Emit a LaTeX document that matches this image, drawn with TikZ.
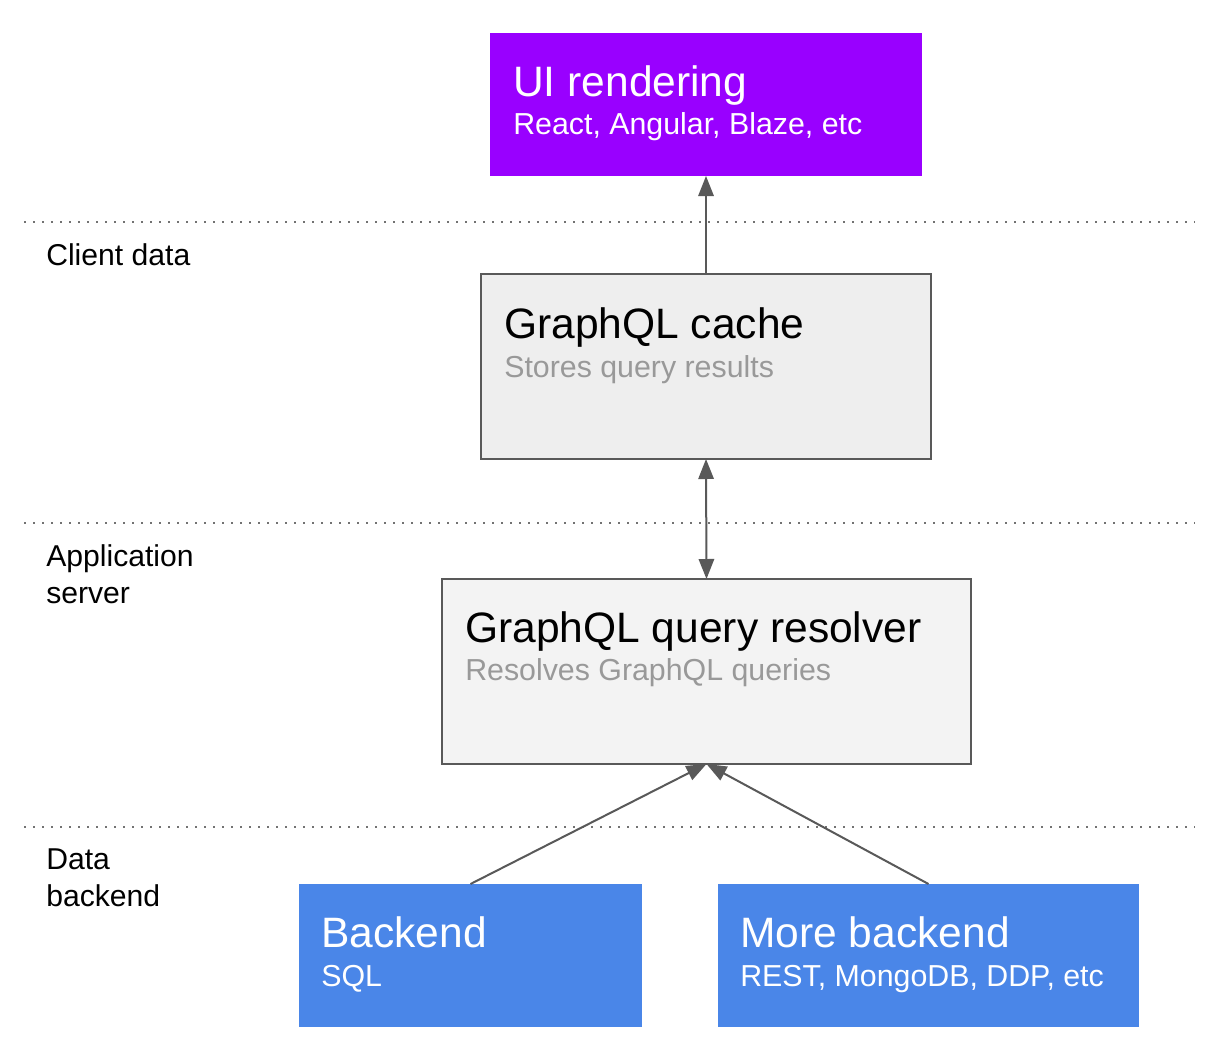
\documentclass[tikz,border=0pt]{standalone}
\usepackage{fontspec}
\setmainfont{Liberation Sans}
\usepackage{tikz}
\usetikzlibrary{arrows.meta}

\definecolor{uipurple}{HTML}{9900FF}
\definecolor{cachegray}{HTML}{EEEEEE}
\definecolor{resolvergray}{HTML}{F3F3F3}
\definecolor{backendblue}{HTML}{4A86E8}
\definecolor{edgegray}{HTML}{595959}
\definecolor{subgray}{HTML}{999999}

\tikzset{
	layerbox/.style={anchor=north west, inner sep=0pt, outer sep=0pt},
	greybox/.style={layerbox, draw=edgegray, line width=1.1pt},
	boxtitle/.style={anchor=base west, inner sep=0pt, font=\fontsize{31.9}{38}\selectfont},
	boxsub/.style={anchor=base west, inner sep=0pt, font=\fontsize{22.75}{27}\selectfont},
	layerlabel/.style={anchor=base west, inner sep=0pt, align=left, font=\fontsize{22.6}{27.3}\selectfont},
	flow/.style={draw=edgegray, line width=1.5pt, -{Triangle[length=15pt, width=11.5pt]}},
}

\begin{document}
\begin{tikzpicture}[x=0.75pt, y=-0.75pt]
	\useasboundingbox[fill=white] (0,0) rectangle (1218,1046);
	% layer separators
	\foreach \y in {222,523,827} {\draw[edgegray!85, line width=1.5pt, dash pattern=on 1.5pt off 5.25pt] (24,\y) -- (1195,\y);}
	\node[layerlabel] (clientlbl) at (46,265) {Client data};
	\node[layerlabel] (applbl) at (46,603) {Application\\server};
	\node[layerlabel] (datalbl) at (46,906) {Data\\backend};
	% boxes
	\node[layerbox, fill=uipurple, minimum width=324pt, minimum height=107.25pt] (ui) at (490,33) {};
	\node[greybox, fill=cachegray, minimum width=337.5pt, minimum height=138.75pt] (cache) at (481,274) {};
	\node[greybox, fill=resolvergray, minimum width=396.75pt, minimum height=138.75pt] (resolver) at (442,579) {};
	\node[layerbox, fill=backendblue, minimum width=257.25pt, minimum height=107.25pt] (backend) at (299,884) {};
	\node[layerbox, fill=backendblue, minimum width=315.75pt, minimum height=107.25pt] (morebackend) at (718,884) {};
	% box texts
	\node[boxtitle, white] (uititle) at (513,96) {UI rendering};
	\node[boxsub, white] (uisub) at (513,134) {React, Angular, Blaze, etc};
	\node[boxtitle] (cachetitle) at (504,338) {GraphQL cache};
	\node[boxsub, subgray] (cachesub) at (504,377) {Stores query results};
	\node[boxtitle] (resolvertitle) at (465,642) {GraphQL query resolver};
	\node[boxsub, subgray] (resolversub) at (465,680) {Resolves GraphQL queries};
	\node[boxtitle, white] (backendtitle) at (321,947) {Backend};
	\node[boxsub, white] (backendsub) at (321,986) {SQL};
	\node[boxtitle, white] (moretitle) at (740,947) {More backend};
	\node[boxsub, white] (moresub) at (740,986) {REST, MongoDB, DDP, etc};
	% connectors
	\draw[flow] (cache.north) -- (ui.south);
	\draw[flow, {Triangle[length=15pt, width=11.5pt]}-{Triangle[length=15pt, width=11.5pt]}] (cache.south) -- (resolver.north);
	\draw[flow] (backend.north) -- (resolver.south);
	\draw[flow] (morebackend.north) -- (resolver.south);
\end{tikzpicture}
\end{document}
